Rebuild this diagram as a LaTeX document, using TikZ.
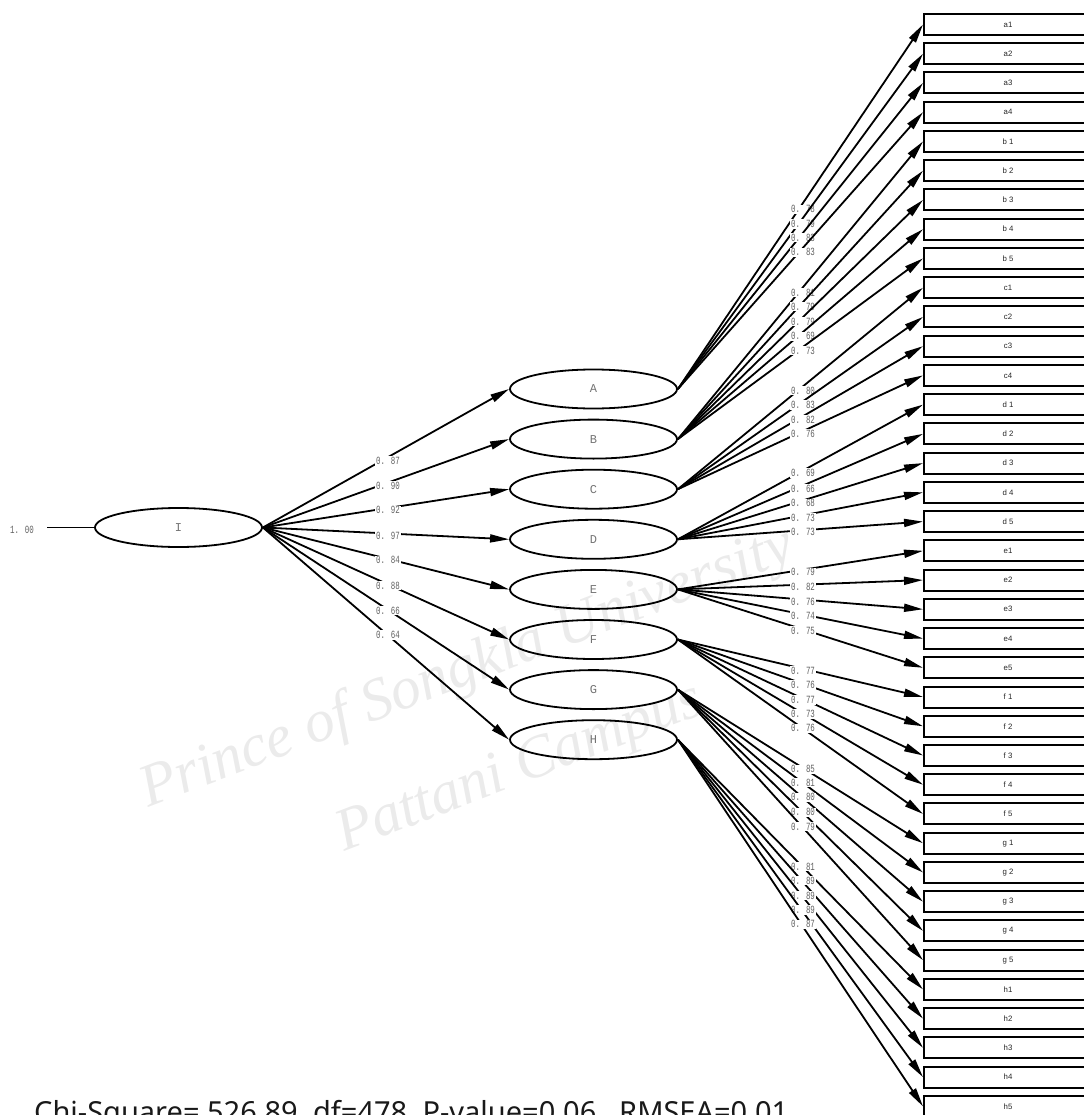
\documentclass[tikz,border=0pt]{standalone}
\usepackage{fontspec}
\setmainfont{Liberation Serif}
\newfontfamily\coefont[FakeStretch=0.68]{Liberation Mono}
\newfontfamily\latfont{Liberation Mono}
\newfontfamily\boxfont{Liberation Sans}
\newfontfamily\fitfont{Noto Sans}
\newfontfamily\wmfont{Liberation Serif}
\usetikzlibrary{arrows.meta,shapes.geometric}
\begin{document}
\begin{tikzpicture}[x=1pt,y=-1pt,
  latent/.style={ellipse, draw, line width=1.8pt, minimum width=167pt, minimum height=39pt, inner sep=0pt, text=black!55, font=\latfont\fontsize{12}{12}\selectfont},
  obs/.style={rectangle, draw, line width=2pt, minimum width=168pt, minimum height=21pt, inner sep=0pt, text=black!85, font=\boxfont\fontsize{7.8}{8}\selectfont},
  conn/.style={line width=1.8pt, -{Triangle[length=19pt,width=8pt]}},
  coef/.style={fill=white, inner sep=0.8pt, text=black!62, font=\coefont\fontsize{11}{11}\selectfont},
  wmark/.style={rotate=21, anchor=base west, inner sep=0pt, text=black!8, font=\wmfont\itshape\fontsize{60}{60}\selectfont}
]
\useasboundingbox (0,0) rectangle (1083,1115);
% watermark
\node[wmark] (wm1) at (148,808) {Prince of Songkla University};
\node[wmark] (wm2) at (344,852) {Pattani Campus};
% latent variables
\node[latent] (I) at (178.5,527.5) {I};
\foreach \n [count=\k from 0] in {A,B,C,D,E,F,G,H}
  \node[latent] (\n) at (593.5,{389+50.1*\k}) {\n};
% observed variables
\foreach \n/\t [count=\i from 0] in {a1/a1,a2/a2,a3/a3,a4/a4,b1/b 1,b2/b 2,b3/b 3,b4/b 4,b5/b 5,c1/c1,c2/c2,c3/c3,c4/c4,d1/d 1,d2/d 2,d3/d 3,d4/d 4,d5/d 5,e1/e1,e2/e2,e3/e3,e4/e4,e5/e5,f1/f 1,f2/f 2,f3/f 3,f4/f 4,f5/f 5,g1/g 1,g2/g 2,g3/g 3,g4/g 4,g5/g 5,h1/h1,h2/h2,h3/h3,h4/h4,h5/h5}
  \node[obs] (\n) at (1008,{24.5+29.24*\i}) {\t};
% input line of I
\coordinate (in0) at (47,527.5);
\draw[line width=1.8pt] (in0) -- (I.west);
\node[coef, fill=none] (one) at (22,530) {1. 00};
% second-order loadings
\foreach \t/\v/\y [count=\k] in {A/0. 87/461,B/0. 90/486,C/0. 92/510.3,D/0. 97/535.7,E/0. 84/560.3,F/0. 88/585.7,G/0. 66/610.7,H/0. 64/635}{
  \draw[conn] (I.east) -- (\t.west);
  \node[coef] (m\k) at (388,\y) {\v};
}
% first-order loadings
\foreach \s/\t/\v/\y [count=\k] in {
A/a1/0. 78/209.3,A/a2/0. 79/224,A/a3/0. 83/237.7,A/a4/0. 83/252.3,
B/b1/0. 81/292.7,B/b2/0. 79/306.7,B/b3/0. 79/321.7,B/b4/0. 69/336.3,B/b5/0. 73/350.7,
C/c1/0. 80/390.7,C/c2/0. 83/405,C/c3/0. 82/420,C/c4/0. 76/434,
D/d1/0. 69/473,D/d2/0. 66/489,D/d3/0. 68/503.3,D/d4/0. 73/517.7,D/d5/0. 73/532.3,
E/e1/0. 79/572.3,E/e2/0. 82/586.7,E/e3/0. 76/601.7,E/e4/0. 74/616,E/e5/0. 75/630.7,
F/f1/0. 77/670.7,F/f2/0. 76/685,F/f3/0. 77/700,F/f4/0. 73/714,F/f5/0. 76/728.3,
G/g1/0. 85/769.3,G/g2/0. 81/782.7,G/g3/0. 80/797.3,G/g4/0. 80/812.3,G/g5/0. 79/826.7,
H/h1/0. 81/866.7,H/h2/0. 89/880.7,H/h3/0. 89/895.7,H/h4/0. 89/910,H/h5/0. 87/924.3}{
  \draw[conn] (\s.east) -- (\t.west);
  \node[coef] (l\k) at (803,\y) {\v};
}
% fit statistics
\node[anchor=base west, inner sep=0pt, text=black!90, font=\fitfont\fontsize{29}{29}\selectfont] (fit) at (34,1122) {Chi-Square= 526.89, df=478, P-value=0.06,\ \ RMSEA=0.01};
\end{tikzpicture}
\end{document}
